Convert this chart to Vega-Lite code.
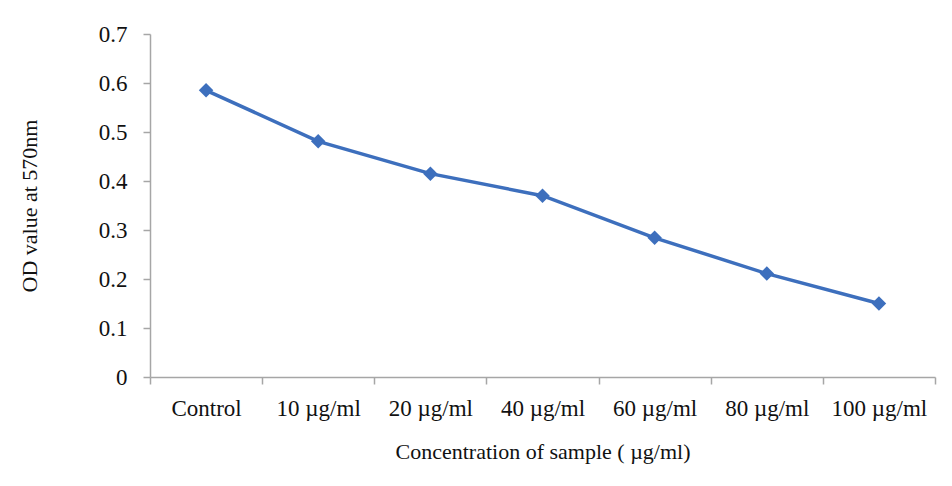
{
  "$schema": "https://vega.github.io/schema/vega-lite/v6.json",
  "width": 785,
  "height": 343,
  "autosize": {"type": "none"},
  "padding": {"left": 150, "top": 34, "right": 17, "bottom": 109},
  "background": "white",
  "config": {
    "view": {"stroke": null},
    "font": "Liberation Serif",
    "axis": {
      "labelFont": "Liberation Serif",
      "titleFont": "Liberation Serif",
      "labelFontSize": 23,
      "titleFontSize": 22,
      "labelColor": "#111111",
      "titleColor": "#111111",
      "titleFontWeight": "normal",
      "domainColor": "#a6a6a6",
      "tickColor": "#a6a6a6",
      "domainWidth": 1.5,
      "tickWidth": 1.5,
      "grid": false
    }
  },
  "data": {
    "values": [
      {"conc": "Control", "od": 0.585},
      {"conc": "10 µg/ml", "od": 0.481},
      {"conc": "20 µg/ml", "od": 0.415},
      {"conc": "40 µg/ml", "od": 0.370},
      {"conc": "60 µg/ml", "od": 0.284},
      {"conc": "80 µg/ml", "od": 0.211},
      {"conc": "100 µg/ml", "od": 0.150}
    ]
  },
  "mark": {
    "type": "line",
    "color": "#3d6fbd",
    "strokeWidth": 3.5,
    "point": {"shape": "diamond", "size": 210, "filled": true, "color": "#3d6fbd"}
  },
  "encoding": {
    "x": {
      "field": "conc",
      "type": "nominal",
      "sort": null,
      "scale": {"paddingInner": 0, "paddingOuter": 0},
      "axis": {
        "title": "Concentration of sample ( µg/ml)",
        "labelAngle": 0,
        "tickBand": "extent",
        "tickSize": 7,
        "labelPadding": 13,
        "titlePadding": 21
      }
    },
    "y": {
      "field": "od",
      "type": "quantitative",
      "scale": {"domain": [0, 0.7], "nice": false},
      "axis": {
        "title": "OD value at 570nm",
        "values": [0, 0.1, 0.2, 0.3, 0.4, 0.5, 0.6, 0.7],
        "format": ".1~f",
        "tickSize": 7,
        "labelPadding": 16,
        "titlePadding": 57
      }
    }
  }
}
